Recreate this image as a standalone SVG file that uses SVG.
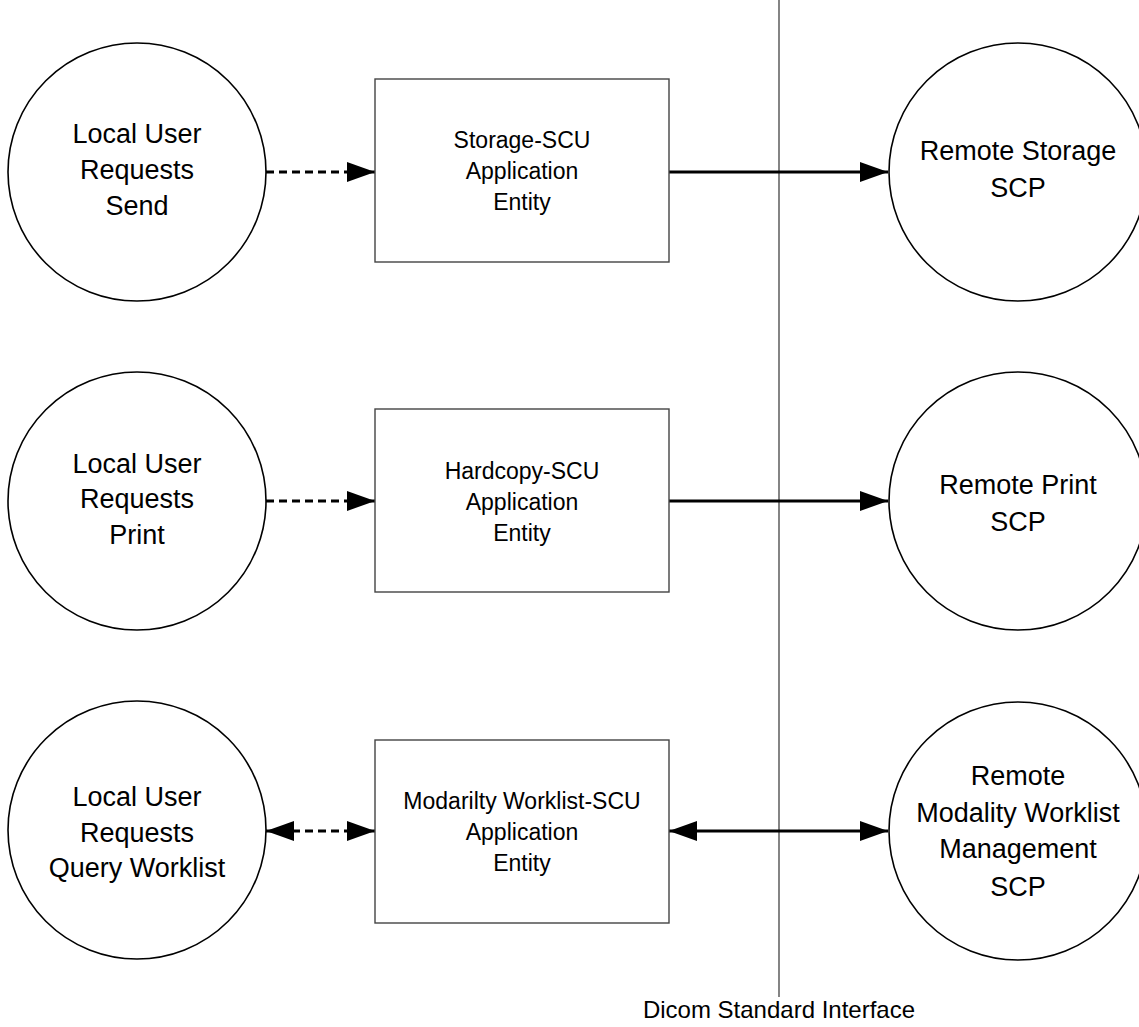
<svg xmlns="http://www.w3.org/2000/svg" width="1139" height="1027" viewBox="0 0 1139 1027">
<defs>
<style>
.circ{fill:#fff;stroke:#000;stroke-width:1.6}
.box{fill:#fff;stroke:#444;stroke-width:1.4}
.ct{font-family:"Liberation Sans",Arial,sans-serif;font-size:27px;fill:#000;text-anchor:middle}
.bt{font-family:"Liberation Sans",Arial,sans-serif;font-size:23px;fill:#000;text-anchor:middle}
.dash{stroke:#000;stroke-width:3;stroke-dasharray:8 5;fill:none}
.solid{stroke:#000;stroke-width:3;fill:none}
</style>
<marker id="ah" viewBox="0 0 28 20" refX="28" refY="10" markerWidth="28" markerHeight="20" markerUnits="userSpaceOnUse" orient="auto-start-reverse">
<path d="M0,0 L28,10 L0,20 z" fill="#000"/>
</marker>
</defs>
<rect width="1139" height="1027" fill="#fff"/>
<line x1="779" y1="0" x2="779" y2="997" stroke="#333" stroke-width="1.2"/>
<text x="779" y="1018" class="bt" style="font-size:24px">Dicom Standard Interface</text>

<g id="connectors">
<line class="dash" x1="266" y1="172" x2="375" y2="172" marker-end="url(#ah)"/>
<line class="solid" x1="669" y1="172" x2="888" y2="172" marker-end="url(#ah)"/>
<line class="dash" x1="266" y1="501" x2="375" y2="501" marker-end="url(#ah)"/>
<line class="solid" x1="669" y1="501" x2="888" y2="501" marker-end="url(#ah)"/>
<line class="dash" x1="266" y1="831" x2="375" y2="831" marker-start="url(#ah)" marker-end="url(#ah)"/>
<line class="solid" x1="669" y1="831" x2="888" y2="831" marker-start="url(#ah)" marker-end="url(#ah)"/>
</g>

<g id="local-send">
<circle class="circ" cx="137" cy="172" r="129"/>
<text class="ct" x="137" y="143">Local User</text>
<text class="ct" x="137" y="179">Requests</text>
<text class="ct" x="137" y="215">Send</text>
</g>
<g id="local-print">
<circle class="circ" cx="137" cy="501" r="129"/>
<text class="ct" x="137" y="473">Local User</text>
<text class="ct" x="137" y="508">Requests</text>
<text class="ct" x="137" y="544">Print</text>
</g>
<g id="local-query">
<circle class="circ" cx="137" cy="830" r="129"/>
<text class="ct" x="137" y="806">Local User</text>
<text class="ct" x="137" y="842">Requests</text>
<text class="ct" x="137" y="877">Query Worklist</text>
</g>

<g id="storage-scu">
<rect class="box" x="375" y="79" width="294" height="183"/>
<text class="bt" x="522" y="148">Storage-SCU</text>
<text class="bt" x="522" y="179">Application</text>
<text class="bt" x="522" y="210">Entity</text>
</g>
<g id="hardcopy-scu">
<rect class="box" x="375" y="409" width="294" height="183"/>
<text class="bt" x="522" y="479">Hardcopy-SCU</text>
<text class="bt" x="522" y="510">Application</text>
<text class="bt" x="522" y="541">Entity</text>
</g>
<g id="worklist-scu">
<rect class="box" x="375" y="740" width="294" height="183"/>
<text class="bt" x="522" y="809">Modarilty Worklist-SCU</text>
<text class="bt" x="522" y="840">Application</text>
<text class="bt" x="522" y="871">Entity</text>
</g>

<g id="remote-storage">
<circle class="circ" cx="1018" cy="172" r="129"/>
<text class="ct" x="1018" y="160">Remote Storage</text>
<text class="ct" x="1018" y="197">SCP</text>
</g>
<g id="remote-print">
<circle class="circ" cx="1018" cy="501" r="129"/>
<text class="ct" x="1018" y="494">Remote Print</text>
<text class="ct" x="1018" y="531">SCP</text>
</g>
<g id="remote-worklist">
<circle class="circ" cx="1018" cy="831" r="129"/>
<text class="ct" x="1018" y="785">Remote</text>
<text class="ct" x="1018" y="822">Modality Worklist</text>
<text class="ct" x="1018" y="858">Management</text>
<text class="ct" x="1018" y="896">SCP</text>
</g>
</svg>
